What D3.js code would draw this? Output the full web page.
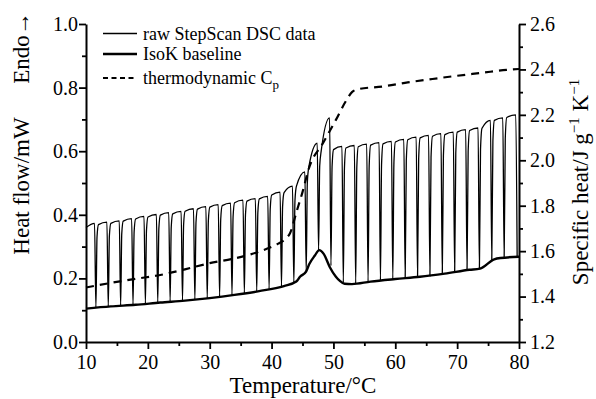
<!DOCTYPE html>
<html><head><meta charset="utf-8">
<script src="https://cdn.jsdelivr.net/npm/d3@7"></script>
<style>
html,body{margin:0;padding:0;background:#fff;}
svg text{font-family:"Liberation Serif","Times New Roman",serif;fill:#000;}
</style></head>
<body><svg id="c" width="596" height="399"></svg>
<script>
// ---- data ----
const dipT = [11.6,13.6,15.6,17.6,19.6,21.6,23.6,25.6,27.6,29.6,31.6,33.6,35.6,37.6,39.6,41.6,43.6,45.6,47.6,49.6,51.6,53.6,55.6,57.6,59.6,61.6,63.6,65.6,67.6,69.6,71.6,73.6,75.6,77.6,79.7];
const dipV = [0.108,0.111,0.114,0.117,0.120,0.124,0.127,0.130,0.133,0.137,0.143,0.148,0.153,0.159,0.166,0.174,0.186,0.220,0.287,0.240,0.187,0.183,0.189,0.193,0.197,0.200,0.204,0.208,0.213,0.219,0.226,0.231,0.258,0.265,0.268];
const plateauStart = [0.360,0.369,0.373,0.380,0.387,0.393,0.399,0.403,0.411,0.418,0.424,0.429,0.438,0.443,0.450,0.462,0.470,0.490,0.550,0.600,0.605,0.610,0.614,0.619,0.623,0.629,0.636,0.642,0.647,0.652,0.660,0.665,0.672,0.697,0.706];
const plateauEnd   = [0.373,0.377,0.381,0.388,0.395,0.401,0.407,0.411,0.419,0.426,0.432,0.437,0.446,0.451,0.458,0.471,0.490,0.535,0.625,0.705,0.615,0.618,0.622,0.627,0.631,0.637,0.644,0.650,0.655,0.660,0.668,0.673,0.697,0.705,0.714];
const baseT = [10,14,18,22,26,30,34,38,42,44,44.6,45.6,46.1,47,47.7,48.4,49.4,50.4,51,51.8,53,56,60,64,68,72,73.7,76,77,80];
const baseV = [0.105,0.112,0.117,0.124,0.130,0.138,0.148,0.160,0.176,0.190,0.205,0.222,0.245,0.272,0.289,0.278,0.236,0.205,0.193,0.183,0.182,0.190,0.198,0.205,0.215,0.227,0.231,0.260,0.264,0.268];
const cpT = [10,14,18,22,26,30,34,38,41,42.3,43,44,45,46.1,48.3,50.4,52,53,54,58,62,66,70,74,78,80];
const cpV = [1.44,1.46,1.478,1.495,1.52,1.547,1.568,1.598,1.632,1.655,1.68,1.77,1.86,1.97,2.075,2.178,2.26,2.30,2.313,2.325,2.343,2.358,2.372,2.385,2.398,2.402];
const xTicks = [10,20,30,40,50,60,70,80];
const yLTicks = [0.0,0.2,0.4,0.6,0.8,1.0];
const yRTicks = [1.2,1.4,1.6,1.8,2.0,2.2,2.4,2.6];
const legendLabels = ["raw StepScan DSC data","IsoK baseline","thermodynamic C"];

const FONT = '"Liberation Serif","Times New Roman",serif';
// ---- layout ----
const svg = d3.select("#c");
const x = d3.scaleLinear().domain([10,80]).range([86,519]);
const yL = d3.scaleLinear().domain([0,1]).range([342,24]);
const yR = d3.scaleLinear().domain([1.2,2.6]).range([342,24]);

// raw StepScan trace built from per-step values
const raw = [];
raw.push([10, plateauStart[0]]);
raw.push([dipT[0]-0.22, plateauEnd[0]]);
raw.push([dipT[0], dipV[0]]);
for (let j=1;j<dipT.length;j++){
  const a = dipT[j-1], b = dipT[j], da = dipV[j-1];
  const s = plateauStart[j], e = plateauEnd[j];
  raw.push([a+0.18, da + 0.85*(s-da)]);
  raw.push([a+0.42, s]);
  raw.push([b-0.22, e]);
  raw.push([b, dipV[j]]);
}
const lineRaw = d3.line().x(d=>x(d[0])).y(d=>yL(d[1])).curve(d3.curveMonotoneX);
svg.append("path").attr("d", lineRaw(raw)).attr("fill","none").attr("stroke","#000").attr("stroke-width",1.3);

const lineBase = d3.line().x((d,i)=>x(baseT[i])).y(d=>yL(d)).curve(d3.curveMonotoneX);
svg.append("path").attr("d", lineBase(baseV)).attr("fill","none").attr("stroke","#000").attr("stroke-width",2.4);

const lineCp = d3.line().x((d,i)=>x(cpT[i])).y(d=>yR(d)).curve(d3.curveMonotoneX);
svg.append("path").attr("d", lineCp(cpV)).attr("fill","none").attr("stroke","#000").attr("stroke-width",2.2).attr("stroke-dasharray","8,6");

// ---- axes ----
function styleAxis(g, fs){
  g.attr("font-family", FONT);
  g.selectAll("path.domain").attr("stroke","#000").attr("stroke-width",2);
  g.selectAll(".tick line").attr("stroke","#000").attr("stroke-width",1.8);
  g.selectAll(".tick text").style("font-size",fs+"px").style("font-family",FONT).attr("fill","#000");
}
const minorX = [15,25,35,45,55,65,75];
const minorL = [0.1,0.3,0.5,0.7,0.9];
const minorR = [1.3,1.5,1.7,1.9,2.1,2.3,2.5];

const gx = svg.append("g").attr("transform","translate(0,342)")
  .call(d3.axisBottom(x).tickValues(xTicks).tickFormat(d3.format("d")).tickSize(7).tickSizeOuter(0).tickPadding(6));
styleAxis(gx,20);
const gxm = svg.append("g").attr("transform","translate(0,342)")
  .call(d3.axisBottom(x).tickValues(minorX).tickFormat("").tickSize(4).tickSizeOuter(0));
gxm.select("path.domain").remove(); styleAxis(gxm,20);

const gl = svg.append("g").attr("transform","translate(86,0)")
  .call(d3.axisLeft(yL).tickValues(yLTicks).tickFormat(d3.format(".1f")).tickSize(7).tickSizeOuter(0).tickPadding(1));
styleAxis(gl,20);
const glm = svg.append("g").attr("transform","translate(86,0)")
  .call(d3.axisLeft(yL).tickValues(minorL).tickFormat("").tickSize(4).tickSizeOuter(0));
glm.select("path.domain").remove(); styleAxis(glm,20);

const gr = svg.append("g").attr("transform","translate(519,0)")
  .call(d3.axisRight(yR).tickValues(yRTicks).tickFormat(d3.format(".1f")).tickSize(7).tickSizeOuter(0).tickPadding(4));
styleAxis(gr,20);
const grm = svg.append("g").attr("transform","translate(519,0)")
  .call(d3.axisRight(yR).tickValues(minorR).tickFormat("").tickSize(4).tickSizeOuter(0));
grm.select("path.domain").remove(); styleAxis(grm,20);

// ---- titles ----
svg.append("text").attr("x",303).attr("y",393).attr("text-anchor","middle").style("font-size","23px").text("Temperature/°C");
svg.append("text").attr("transform","translate(29,186) rotate(-90)").attr("text-anchor","middle").style("font-size","23px").text("Heat flow/mW");
svg.append("text").attr("transform","translate(29,48) rotate(-90)").attr("text-anchor","middle").style("font-size","23px").text("Endo→");
const rt = svg.append("text").attr("transform","translate(588,182) rotate(-90)").attr("text-anchor","middle").style("font-size","23px");
rt.append("tspan").text("Specific heat/J g");
rt.append("tspan").attr("dy",-9).style("font-size","15px").text("−1");
rt.append("tspan").attr("dy",9).text(" K");
rt.append("tspan").attr("dy",-9).style("font-size","15px").text("−1");

// ---- legend ----
const lg = svg.append("g");
const ly = [33.5,54,78];
lg.append("line").attr("x1",103).attr("x2",137).attr("y1",ly[0]).attr("y2",ly[0]).attr("stroke","#000").attr("stroke-width",1.3);
lg.append("line").attr("x1",103).attr("x2",137).attr("y1",ly[1]).attr("y2",ly[1]).attr("stroke","#000").attr("stroke-width",2.4);
lg.append("line").attr("x1",103).attr("x2",137).attr("y1",ly[2]).attr("y2",ly[2]).attr("stroke","#000").attr("stroke-width",2.2).attr("stroke-dasharray","5,3.5");
legendLabels.forEach((t,i)=>{
  const tx = lg.append("text").attr("x",143).attr("y",ly[i]+6).style("font-size","18px").text(t);
  if(i===2){ tx.append("tspan").attr("dy",5).style("font-size","13px").text("p"); }
});
</script></body></html>
